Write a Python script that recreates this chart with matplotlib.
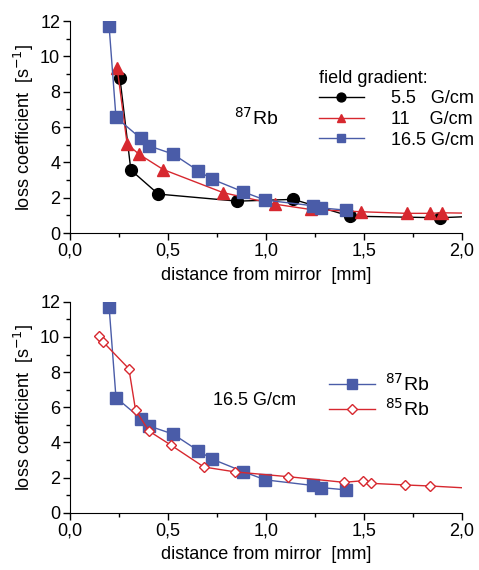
import numpy as np
import matplotlib
matplotlib.use("Agg")
import matplotlib.pyplot as plt
from matplotlib.ticker import MultipleLocator, FuncFormatter

plt.rcParams['font.family'] = ['Liberation Sans', 'DejaVu Sans']

# top panel: 87Rb at three field gradients
x_55 = [0.255, 0.311, 0.451, 0.855, 1.14, 1.43, 1.89, 2.10]
y_55 = [8.79, 3.57, 2.21, 1.81, 1.91, 0.96, 0.87, 0.97]

x_11 = [0.241, 0.292, 0.352, 0.476, 0.782, 1.046, 1.228, 1.488, 1.718, 1.837, 1.90, 2.10]
y_11 = [9.36, 5.04, 4.47, 3.60, 2.29, 1.64, 1.34, 1.21, 1.12, 1.12, 1.15, 1.12]

x_165 = [0.200, 0.235, 0.362, 0.403, 0.527, 0.655, 0.724, 0.884, 0.997, 1.24, 1.28, 1.41]
y_165 = [11.7, 6.55, 5.36, 4.94, 4.47, 3.53, 3.06, 2.34, 1.87, 1.55, 1.43, 1.30]

# bottom panel: 85Rb at 16.5 G/cm
x_85 = [0.148, 0.170, 0.301, 0.335, 0.403, 0.515, 0.684, 0.845, 1.114, 1.398,
        1.497, 1.539, 1.709, 1.84, 2.10]
y_85 = [10.07, 9.71, 8.19, 5.84, 4.65, 3.85, 2.60, 2.32, 2.05, 1.73,
        1.82, 1.67, 1.58, 1.52, 1.36]

blue = '#4a5ca8'
red = '#d7282f'
fs = 13

fig = plt.figure(figsize=(4.79, 5.70), dpi=100)
ax1 = fig.add_axes([0.146, 0.591, 0.818, 0.372])
ax2 = fig.add_axes([0.146, 0.1005, 0.818, 0.370])

comma = FuncFormatter(lambda v, p: ('%.1f' % v).replace('.', ','))

for ax in (ax1, ax2):
    ax.set_xlim(0, 2.0)
    ax.set_ylim(0, 12)
    ax.spines['top'].set_visible(False)
    ax.spines['right'].set_visible(False)
    ax.xaxis.set_major_locator(MultipleLocator(0.5))
    ax.xaxis.set_minor_locator(MultipleLocator(0.25))
    ax.yaxis.set_major_locator(MultipleLocator(2))
    ax.yaxis.set_minor_locator(MultipleLocator(1))
    ax.xaxis.set_major_formatter(comma)
    ax.tick_params(which='major', direction='out', length=5, width=1, labelsize=fs, pad=2)
    ax.tick_params(which='minor', direction='out', length=3, width=1)
    ax.set_xlabel('distance from mirror  [mm]', fontsize=fs, labelpad=5)
    ax.set_ylabel('loss coefficient  [s$^{-1}$]', fontsize=fs, labelpad=3)

ax1.plot(x_55, y_55, '-o', color='black', lw=1, ms=8.5, label='5.5   G/cm')
ax1.plot(x_11, y_11, '-^', color=red, lw=1, ms=8.5, label='11    G/cm')
ax1.plot(x_165, y_165, '-s', color=blue, mec=blue, lw=1, ms=8, label='16.5 G/cm')
ax1.text(0.42, 0.51, '$^{87}$Rb', transform=ax1.transAxes, fontsize=fs + 1)
ax1.legend(loc='upper left', bbox_to_anchor=(0.635, 0.77), frameon=False,
           title='field gradient:', title_fontsize=fs, fontsize=fs, alignment='left',
           handlelength=2.5, handletextpad=1.5, labelspacing=0.2, borderpad=0,
           borderaxespad=0, markerscale=0.75)

ax2.plot(x_165, y_165, '-s', color=blue, mec=blue, lw=1, ms=8, label='$^{87}$Rb')
ax2.plot(x_85, y_85, '-D', color=red, mfc='white', mec=red, lw=1, ms=5.5, label='$^{85}$Rb')
ax2.text(0.365, 0.51, '16.5 G/cm', transform=ax2.transAxes, fontsize=fs)
ax2.legend(loc='upper left', bbox_to_anchor=(0.66, 0.665), frameon=False,
           fontsize=fs + 1, handlelength=2.4, handletextpad=0.5, labelspacing=0.2,
           borderpad=0, borderaxespad=0, markerscale=0.85)

fig.savefig('out.png', dpi=100)
